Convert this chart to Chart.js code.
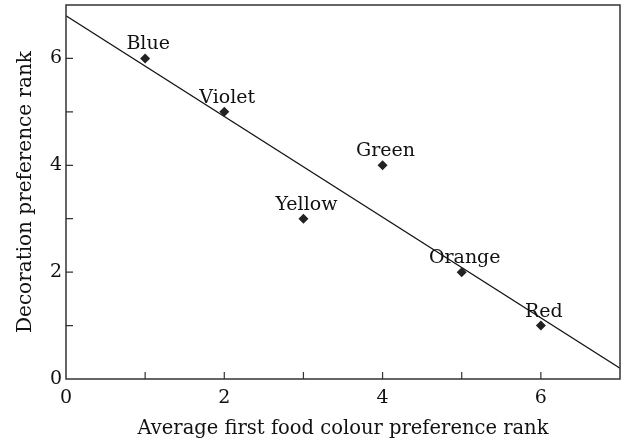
<!DOCTYPE html>
<html>
<head>
<meta charset="utf-8">
<script src="https://cdn.jsdelivr.net/npm/chart.js@4"></script>
<style>
  html, body { margin: 0; padding: 0; background: #fff; }
  #wrap { width: 625px; height: 442px; }
</style>
</head>
<body>
<div id="wrap"><canvas id="chart"></canvas></div>
<script>
// colours and their ranks
const colourNames = ['Blue', 'Violet', 'Yellow', 'Green', 'Orange', 'Red'];
const foodRank = [1, 2, 3, 4, 5, 6];
const decorationRank = [6, 5, 3, 4, 2, 1];

// fitted line at its two ends
const fitX = [0, 7];
const fitY = [6.8, 0.2];

const xTickLabels = [0, 2, 4, 6];
const yTickLabels = [0, 2, 4, 6];

const FONT = '"DejaVu Serif", "Liberation Serif", serif';

// frame, inward ticks and point labels
const decorPlugin = {
  id: 'decor',
  afterDatasetsDraw(chart) {
    const ctx = chart.ctx;
    const a = chart.chartArea;
    const xs = chart.scales.x, ys = chart.scales.y;
    ctx.save();
    ctx.strokeStyle = '#333';
    ctx.lineWidth = 1.5;
    ctx.strokeRect(a.left, a.top, a.right - a.left, a.bottom - a.top);

    ctx.lineWidth = 1.2;
    ctx.beginPath();
    for (let v = 1; v < 7; v++) {
      const px = xs.getPixelForValue(v);
      ctx.moveTo(px, a.bottom);
      ctx.lineTo(px, a.bottom - 7);
      const py = ys.getPixelForValue(v);
      ctx.moveTo(a.left, py);
      ctx.lineTo(a.left + 7, py);
    }
    ctx.stroke();

    ctx.fillStyle = '#111';
    ctx.font = '19px ' + FONT;
    ctx.textAlign = 'center';
    ctx.textBaseline = 'alphabetic';
    colourNames.forEach((name, i) => {
      const px = xs.getPixelForValue(foodRank[i]);
      const py = ys.getPixelForValue(decorationRank[i]);
      ctx.fillText(name, px + 3, py - 9);
    });
    ctx.restore();
  }
};

new Chart(document.getElementById('chart'), {
  type: 'scatter',
  data: {
    datasets: [{
      label: 'Colours',
      data: foodRank.map((x, i) => ({ x: x, y: decorationRank[i] })),
      pointStyle: 'rectRot',
      pointRadius: 5,
      pointHoverRadius: 5,
      backgroundColor: '#222',
      borderColor: '#222',
      borderWidth: 0
    }, {
      type: 'line',
      label: 'Fit',
      data: fitX.map((x, i) => ({ x: x, y: fitY[i] })),
      borderColor: '#111',
      borderWidth: 1.2,
      pointRadius: 0,
      fill: false
    }]
  },
  options: {
    responsive: true,
    maintainAspectRatio: false,
    animation: false,
    layout: { padding: { top: 5, right: 3, left: 14, bottom: 0 } },
    plugins: {
      legend: { display: false },
      tooltip: { enabled: false }
    },
    scales: {
      x: {
        type: 'linear',
        min: 0,
        max: 7,
        grid: { display: false, drawTicks: false },
        border: { display: false },
        afterBuildTicks: s => { s.ticks = xTickLabels.map(v => ({ value: v })); },
        ticks: { color: '#111', font: { family: FONT, size: 19 }, padding: 8, maxRotation: 0 },
        title: {
          display: true,
          text: 'Average first food colour preference rank',
          color: '#111',
          font: { family: FONT, size: 19.5 },
          padding: { top: 6, bottom: 1 }
        },
        afterFit: s => { s.height = 63; s.paddingLeft = 0; s.paddingRight = 0; }
      },
      y: {
        type: 'linear',
        min: 0,
        max: 7,
        grid: { display: false, drawTicks: false },
        border: { display: false },
        afterBuildTicks: s => { s.ticks = yTickLabels.map(v => ({ value: v })); },
        ticks: { color: '#111', font: { family: FONT, size: 19 }, padding: 4 },
        title: {
          display: true,
          text: 'Decoration preference rank',
          color: '#111',
          font: { family: FONT, size: 20 },
          padding: { top: 0, bottom: 4 }
        },
        afterFit: s => { s.width = 52; s.paddingTop = 0; s.paddingBottom = 0; }
      }
    }
  },
  plugins: [decorPlugin]
});
</script>
</body>
</html>
